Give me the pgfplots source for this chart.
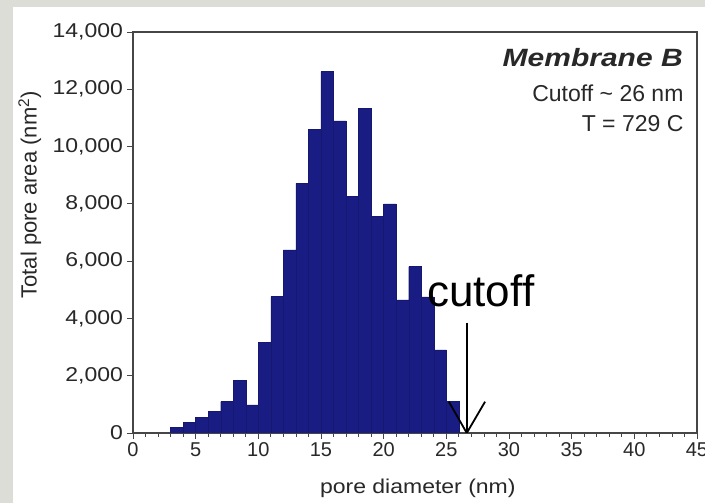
\documentclass[border=0pt]{standalone}
\usepackage{fontspec}
\setmainfont{Liberation Sans}
\usepackage{pgfplots}
\pgfplotsset{compat=1.18}
\definecolor{barblue}{RGB}{25,28,130}
\definecolor{framegray}{RGB}{221,221,215}
\definecolor{axgray}{RGB}{70,70,70}
\definecolor{txt}{RGB}{40,40,40}

\begin{document}
\begin{tikzpicture}
% page frame: grey border, white panel
\fill[framegray] (-133pt,-70pt) rectangle (572pt,433pt);
\fill[white] (-120pt,-70pt) rectangle (572pt,426pt);
\begin{axis}[
  scale only axis, width=564pt, height=401pt,
  xmin=0, xmax=45, ymin=0, ymax=14000,
  xtick={0,5,...,45}, minor x tick num=4,
  ytick={0,2000,...,14000},
  scaled y ticks=false,
  tick align=outside, xtick pos=bottom, ytick pos=left,
  axis line style={axgray, line width=1.3pt},
  major tick length=6pt, minor tick length=4pt,
  every tick/.style={axgray, line width=0.8pt},
  tick label style={font=\fontsize{20}{22}\selectfont, text=txt},
  yticklabel style={xscale=1.15},
  /pgf/number format/assume math mode=true,
  /pgf/number format/1000 sep={,},
  xlabel={pore diameter (nm)},
  ylabel={Total pore area (nm\textsuperscript{2})},
  xlabel style={font=\fontsize{20}{22}\selectfont, text=txt, xscale=1.15,
    at={(rel axis cs:0.505,-0.137)}, anchor=center},
  ylabel style={font=\fontsize{22}{24}\selectfont, text=txt,
    at={(rel axis cs:-0.183,0.594)}, anchor=center},
]
% histogram, 1 nm bins, left edges
\addplot[ybar interval, fill=barblue, draw=barblue!85!black, line width=0.4pt]
  coordinates {(3,200)(4,360)(5,548)(6,744)(7,1093)(8,1826)(9,978)
  (10,3153)(11,4759)(12,6390)(13,8718)(14,10604)(15,12615)(16,10894)
  (17,8251)(18,11337)(19,7552)(20,7996)(21,4644)(22,5807)(23,4750)
  (24,2898)(25,1093)(26,1093)};

% cutoff arrow
\addplot[black, line width=1.8pt] coordinates {(26.63,3851)(26.63,0)};
\addplot[black, line width=1.8pt] coordinates {(25.2,1093)(26.63,0)(28.09,1093)};

\node[anchor=base west, font=\fontsize{44}{46}\selectfont, text=black]
  at (axis cs:23.2,4409) {cutof\kern0pt f};

\node[anchor=base east, font=\fontsize{25}{27}\selectfont\bfseries\itshape, text=txt, xscale=1.2]
  at (axis cs:44.2,12790) {Membrane B};
\node[anchor=base east, font=\fontsize{23}{25}\selectfont, text=txt]
  at (axis cs:44.2,11568) {Cutoff \char`~\ 26 nm};
\node[anchor=base east, font=\fontsize{23}{25}\selectfont, text=txt]
  at (axis cs:44.2,10520) {T = 729 C};
\end{axis}
\pgfresetboundingbox
\useasboundingbox (-133pt,-70pt) rectangle (572pt,433pt);
\end{tikzpicture}
\end{document}
